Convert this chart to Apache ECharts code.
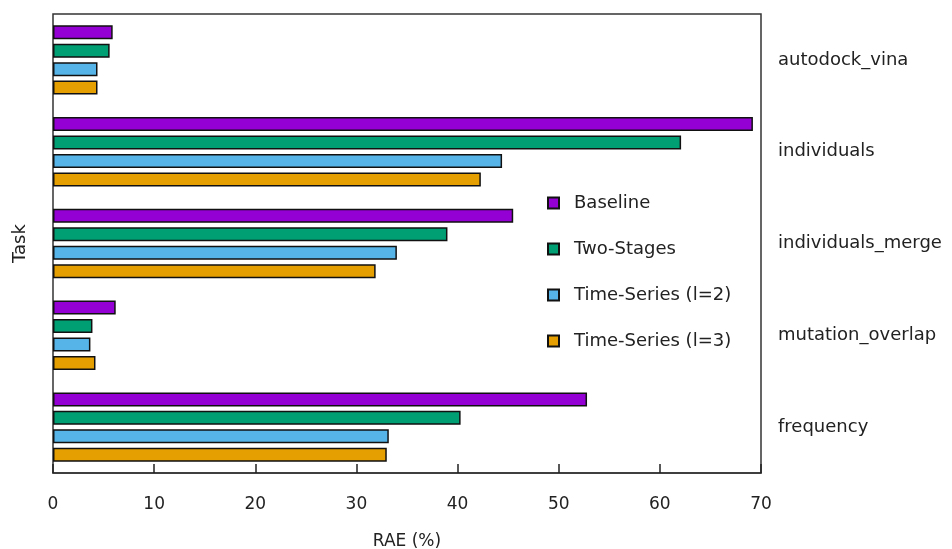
<!DOCTYPE html>
<html>
<head>
<meta charset="utf-8">
<script src="https://cdn.jsdelivr.net/npm/echarts@6/dist/echarts.min.js"></script>
<style>
  html, body { margin: 0; padding: 0; background: #fff; }
  #chart { width: 952px; height: 549px; }
</style>
</head>
<body>
<div id="chart"></div>
<script>
// Tasks, listed top to bottom
const tasks = ['autodock_vina', 'individuals', 'individuals_merge', 'mutation_overlap', 'frequency'];

// RAE (%) per task for each method
const baseline   = [5.9, 69.2, 45.5, 6.2, 52.8];
const twoStages  = [5.6, 62.1, 39.0, 3.9, 40.3];
const timeSeries2 = [4.4, 44.4, 34.0, 3.7, 33.2];
const timeSeries3 = [4.4, 42.3, 31.9, 4.2, 33.0];

const seriesNames = ['Baseline', 'Two-Stages', 'Time-Series (l=2)', 'Time-Series (l=3)'];
const seriesColors = ['#9400D3', '#009E73', '#56B4E9', '#E69F00'];
const seriesValues = [baseline, twoStages, timeSeries2, timeSeries3];

const FONT = 'DejaVu Sans';
const TEXT = '#222';

const chart = echarts.init(document.getElementById('chart'), null, { renderer: 'canvas' });

chart.setOption({
  animation: false,
  backgroundColor: '#fff',
  grid: {
    left: 53, right: 191, top: 14, bottom: 76,
    outerBoundsMode: 'none',
    containLabel: false,
    show: true, borderColor: '#333', borderWidth: 1.5, backgroundColor: 'transparent'
  },
  legend: {
    orient: 'vertical',
    left: 547,
    top: 194,
    padding: 0,
    itemWidth: 11,
    itemHeight: 11,
    itemGap: 28,
    icon: 'rect',
    textStyle: { fontFamily: FONT, fontSize: 18, color: TEXT, lineHeight: 18, padding: [0, 0, 0, 10] },
    data: seriesNames
  },
  xAxis: {
    type: 'value',
    min: 0, max: 70, interval: 10,
    name: 'RAE (%)',
    nameLocation: 'middle',
    nameGap: 60,
    nameTextStyle: { fontFamily: FONT, fontSize: 17, color: TEXT },
    axisLine: { show: true, lineStyle: { color: '#333', width: 1.5 } },
    axisTick: { show: true, inside: true, length: 9, lineStyle: { color: '#222', width: 1.5 } },
    axisLabel: { fontFamily: FONT, fontSize: 17, color: TEXT, margin: 23 },
    splitLine: { show: false }
  },
  yAxis: [
    {
      type: 'category',
      data: tasks,
      inverse: true,
      position: 'right',
      axisLine: { show: false },
      axisTick: { show: false },
      axisLabel: { fontFamily: FONT, fontSize: 18, color: TEXT, margin: 17, align: 'left' },
      splitLine: { show: false }
    },
    {
      type: 'category',
      data: tasks,
      inverse: true,
      position: 'left',
      name: 'Task',
      nameLocation: 'middle',
      nameGap: 24,
      nameRotate: 90,
      nameTextStyle: { fontFamily: FONT, fontSize: 18, color: TEXT },
      axisLine: { show: false },
      axisTick: { show: false },
      axisLabel: { show: false },
      splitLine: { show: false }
    }
  ],
  series: seriesNames.map((name, i) => ({
    name: name,
    type: 'bar',
    yAxisIndex: 0,
    data: seriesValues[i],
    barWidth: 14,
    barGap: '32%',
    itemStyle: { color: seriesColors[i], borderColor: '#111', borderWidth: 1.5 }
  }))
});
</script>
</body>
</html>
